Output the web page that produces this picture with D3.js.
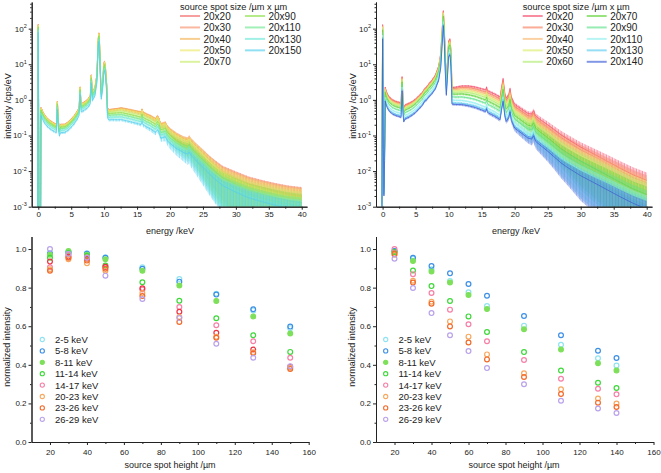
<!DOCTYPE html>
<html><head><meta charset="utf-8">
<script src="https://cdn.jsdelivr.net/npm/d3@7"></script>
<style>
body{margin:0;background:#fff}
text{font-family:"Liberation Sans",Arial,sans-serif;fill:#222}
</style>
</head><body>
<svg id="c" width="661" height="473"></svg>
<script>
// ---------------- DATA ----------------
// Top-left spectrum: 20x20 µm spot (upper curve), energy /keV and intensity /cps/eV
const specLeftE = [-0.1,0,0.1,0.35,0.4,0.5,0.7,1.0,1.5,2.0,2.5,2.75,2.9,3.05,3.2,3.4,4.0,4.5,5.0,5.5,6.0,6.2,6.35,6.5,7.0,7.5,7.9,8.05,8.2,8.6,8.9,9.1,9.2,9.3,9.45,9.55,9.75,9.95,10.05,10.2,10.4,10.5,10.7,11,12,12.6,13,14,15,15.6,15.75,15.9,16.5,17,17.8,18.1,18.3,18.6,19,19.3,19.6,20,21,22,22.7,22.9,23.2,24,25,26,27,28,30,32,34,36,38,40];
const specLeftI = [0.0008,130,0.0008,0.0008,0.6,0.55,0.45,0.36,0.28,0.24,0.21,0.2,0.9,0.25,0.16,0.2,0.2,0.23,0.28,0.36,0.5,0.6,2.3,0.75,0.85,1.0,1.3,5,1.6,2.2,5,50,75,40,5,1.8,3,10,12,8,2.5,0.6,0.5,0.52,0.55,0.57,0.55,0.5,0.45,0.42,0.52,0.42,0.37,0.34,0.28,0.34,0.3,0.2,0.21,0.22,0.17,0.14,0.1,0.078,0.07,0.08,0.065,0.045,0.03,0.02,0.014,0.01,0.0065,0.0045,0.0035,0.0028,0.0023,0.002];
const specLeftNames = ["20x20","20x30","20x40","20x50","20x70","20x90","20x110","20x130","20x150"];

// Top-right spectrum: 20x20 µm spot (upper curve)
const specRightE = [-0.1,0,0.12,0.2,0.3,0.4,0.5,0.7,1.0,1.5,2.0,2.5,2.8,2.95,3.1,3.2,3.4,4.0,4.5,5.0,5.5,6.0,6.4,6.6,7.0,7.5,8.0,8.5,8.8,9.0,9.2,9.35,9.5,9.65,9.8,10.0,10.2,10.35,10.45,10.5,11,12,13,14,15,15.6,15.75,15.9,16.5,17,17.8,18.0,18.25,18.5,18.7,19.1,19.3,19.5,19.8,20,21,22,22.6,22.85,23.2,24,25,26,27,28,30,32,34,36,38,40];
const specRightI = [0.0015,130,0.1,0.005,0.05,2.3,1.9,1.5,1.2,1.0,0.9,0.85,0.8,4.5,1.0,0.6,0.72,0.8,0.9,1.05,1.3,1.6,2.1,2.2,2.8,3.6,5,9,20,80,320,100,15,3.6,10,45,52,25,6,2.2,2.25,2.45,2.45,2.3,2.05,1.9,2.3,1.8,1.6,1.45,1.2,2.2,4,1.6,1.1,1.4,2.1,1.2,0.9,0.75,0.56,0.42,0.4,0.5,0.35,0.27,0.2,0.145,0.105,0.08,0.047,0.03,0.019,0.012,0.0078,0.0055];
const specRightNames = ["20x20","20x30","20x40","20x50","20x60","20x70","20x90","20x110","20x130","20x140"];

// spread of the counting noise (decades below / above the curve) vs energy
const noiseE      = [0, 15, 18, 20, 22, 24, 26, 28, 30, 33, 36, 40];
const noiseLoLeft = [0.04,0.05,0.08,0.15,0.25,0.4,0.6,0.8,1.0,1.2,1.3,1.4];
const noiseHiLeft = [0.03,0.03,0.04,0.05,0.07,0.1,0.12,0.15,0.18,0.2,0.22,0.25];
const noiseLoRight= [0.03,0.04,0.06,0.1,0.15,0.25,0.35,0.5,0.7,0.9,1.1,1.3];
const noiseHiRight= [0.03,0.03,0.04,0.05,0.06,0.08,0.1,0.12,0.14,0.17,0.2,0.22];

// Bottom panels: normalized intensity vs source spot height
const heightsLeft  = [20,30,40,50,70,90,110,130,150];
const heightsRight = [20,30,40,50,60,70,90,110,130,140];
const bandLabels   = ["2-5 keV","5-8 keV","8-11 keV","11-14 keV","14-17 keV","17-20 keV","20-23 keV","23-26 keV","26-29 keV"];
const bandCentres  = [3.5,6.5,9.5,12.5,15.5,18.5,21.5,24.5,27.5];

const left2to5   = [0.98,0.985,0.978,0.958,0.905,0.845,0.768,0.682,0.59];
const left5to8   = [0.975,0.985,0.975,0.955,0.898,0.831,0.764,0.688,0.598];
const left8to11  = [0.97,0.99,0.97,0.947,0.887,0.811,0.731,0.651,0.562];
const left11to14 = [0.955,0.98,0.965,0.915,0.828,0.732,0.641,0.553,0.467];
const left14to17 = [0.905,0.97,0.957,0.905,0.79,0.70,0.605,0.522,0.437];
const left17to20 = [0.935,0.96,0.95,0.908,0.797,0.675,0.566,0.479,0.39];
const left20to23 = [0.895,0.947,0.927,0.888,0.772,0.648,0.545,0.465,0.385];
const left23to26 = [0.888,0.955,0.94,0.898,0.757,0.622,0.54,0.46,0.378];
const left26to29 = [1.0,0.975,0.955,0.862,0.741,0.642,0.509,0.437,0.392];

const right2to5   = [0.99,0.95,0.895,0.834,0.776,0.705,0.603,0.504,0.434,0.396];
const right5to8   = [0.99,0.955,0.912,0.874,0.819,0.758,0.653,0.553,0.473,0.435];
const right8to11  = [0.985,0.938,0.884,0.827,0.762,0.689,0.584,0.48,0.408,0.37];
const right11to14 = [0.985,0.889,0.808,0.731,0.651,0.57,0.466,0.37,0.307,0.28];
const right14to17 = [1.0,0.87,0.772,0.686,0.61,0.522,0.425,0.328,0.276,0.247];
const right20to23 = [0.97,0.836,0.727,0.625,0.546,0.454,0.356,0.273,0.225,0.199];
const right23to26 = [0.975,0.826,0.717,0.599,0.516,0.428,0.337,0.249,0.204,0.181];
const right26to29 = [0.95,0.798,0.668,0.553,0.471,0.383,0.299,0.214,0.174,0.15];

const xTicksEnergy = [0,5,10,15,20,25,30,35,40];
const yTicksLog    = [1e-3,1e-2,1e-1,1,10,100];
const xTicksHeight = [20,40,60,80,100,120,140,160];
const yTicksNorm   = [0,0.2,0.4,0.6,0.8,1.0];

// ---------------- STYLE ----------------
const colLeftSpec  = ["#f26b6b","#f7926e","#f5b455","#eeea6a","#c7ec6a","#8ee04a","#6ee890","#6ee8d8","#55d0ee"];
const colRightSpec = ["#f5506e","#f7805e","#f9b870","#dcee6a","#b0ec70","#62d43a","#5ee28a","#90eeee","#5ccdef","#3e5fd8"];
const bandStyle = {
  "2-5 keV":  {c:"#8fe3f0", fill:false},
  "5-8 keV":  {c:"#3d8fe6", fill:false},
  "8-11 keV": {c:"#7ee05a", fill:true},
  "11-14 keV":{c:"#3ed83a", fill:false},
  "14-17 keV":{c:"#f77fa6", fill:false},
  "17-20 keV":{c:"#ee3344", fill:false},
  "20-23 keV":{c:"#f7a860", fill:false},
  "23-26 keV":{c:"#f26a2a", fill:false},
  "26-29 keV":{c:"#b9a2ea", fill:false}
};

const svg = d3.select("#c");
const defs = svg.append("defs");
const AX = "#222";

function interp(xs, ys, x) {
  if (x <= xs[0]) return ys[0];
  if (x >= xs[xs.length-1]) return ys[ys.length-1];
  const i = d3.bisectRight(xs, x) - 1;
  const t = (x - xs[i]) / (xs[i+1] - xs[i]);
  return ys[i] + t * (ys[i+1] - ys[i]);
}

function axisStyle(g){
  g.selectAll("path,line").attr("stroke", AX).attr("stroke-width",1);
  g.selectAll("text").style("font-size","8px").attr("fill",AX);
}

// streaky texture used to render the noise band of each spectrum
function stripePattern(pid, color, shift) {
  const p = defs.append("pattern").attr("id", pid).attr("patternUnits","userSpaceOnUse")
    .attr("width", 6).attr("height", 400).attr("patternTransform", `translate(${shift},0)`);
  [[0,0.9],[1.9,0.6],[3.3,1.0],[4.9,0.5]].forEach(([px, w]) =>
    p.append("rect").attr("x", px).attr("y", 0).attr("width", w).attr("height", 400)
      .attr("fill", color).attr("fill-opacity", 0.6));
}

function spectrumPanel(id, E, I, names, colors, bands, centres, nLo, nHi, x0, x1, titleX, yTitleX, leg) {
  const x = d3.scaleLinear().domain([-1, 40.8]).range([x0, x1]);
  const y = d3.scaleLog().domain([1e-3, 560]).range([206.7, 2]);
  defs.append("clipPath").attr("id", id).append("rect")
    .attr("x", x0).attr("y", 2).attr("width", x1 - x0).attr("height", 204.7);
  const g = svg.append("g").attr("clip-path", `url(#${id})`);
  names.forEach((nm, k) => {
    const ratio = centres.map((c, b) => bands[b][k] / bands[b][0]);
    const pts = E.map((e, i) => {
      const v = I[i] * interp(centres, ratio, e);
      const lo = interp(noiseE, nLo, e), hi = interp(noiseE, nHi, e);
      return {e, v, lo: Math.max(v * Math.pow(10, -lo), 2e-4), hi: v * Math.pow(10, hi)};
    });
    const pid = `${id}p${k}`;
    stripePattern(pid, colors[k], (k * 1.37) % 6);
    const area = d3.area().x(d => x(d.e)).y0(d => y(d.lo)).y1(d => y(d.hi));
    g.append("path").datum(pts).attr("d", area)
      .attr("fill", colors[k]).attr("fill-opacity", 0.13).attr("stroke","none");
    g.append("path").datum(pts).attr("d", area)
      .attr("fill", `url(#${pid})`).attr("stroke","none");
    g.append("path").datum(pts)
      .attr("d", d3.line().x(d => x(d.e)).y(d => y(Math.max(d.v, 2e-4))))
      .attr("fill","none").attr("stroke", colors[k]).attr("stroke-width", 0.9).attr("stroke-opacity", 0.85);
  });
  // axes
  const minorX = d3.range(2.5, 41, 5);
  svg.append("g").attr("transform","translate(0,206.7)")
    .call(d3.axisBottom(x).tickValues(minorX).tickSize(2).tickFormat("").tickSizeOuter(0)).call(axisStyle);
  svg.append("g").attr("transform","translate(0,206.7)")
    .call(d3.axisBottom(x).tickValues(xTicksEnergy).tickSize(3).tickPadding(2).tickSizeOuter(0)).call(axisStyle);
  const minorY = [];
  for (let p = -3; p <= 2; p++) for (let m = 2; m <= 9; m++) { const v = m * Math.pow(10, p); if (v <= 560) minorY.push(v); }
  svg.append("g").attr("transform",`translate(${x0},0)`)
    .call(d3.axisLeft(y).tickValues(minorY).tickSize(1.5).tickFormat("").tickSizeOuter(0)).call(axisStyle);
  svg.append("g").attr("transform",`translate(${x0},0)`)
    .call(d3.axisLeft(y).tickValues(yTicksLog).tickSize(3).tickFormat("").tickSizeOuter(0)).call(axisStyle);
  yTicksLog.forEach(v => {
    const t = svg.append("text").attr("x", x0 - 5).attr("y", y(v) + 3).attr("text-anchor","end").style("font-size","8px");
    t.append("tspan").text("10");
    t.append("tspan").attr("dy", -3.5).style("font-size","5.5px").text(String(Math.round(Math.log10(v))));
  });
  svg.append("text").attr("x", titleX).attr("y", 234).attr("text-anchor","middle").style("font-size","9px").text("energy /keV");
  svg.append("text").attr("transform",`translate(${yTitleX},106) rotate(-90)`).attr("text-anchor","middle").style("font-size","9px").text("intensity  /cps/eV");
  // legend
  svg.append("text").attr("x", leg.x).attr("y", 9.5).style("font-size","9.2px").text("source spot size /µm x µm");
  names.forEach((nm, k) => {
    const col = k < 5 ? 0 : 1, row = k < 5 ? k : k - 5;
    const lx = col === 0 ? leg.x : leg.x2;
    const cy = 16 + row * 11.45;
    svg.append("line").attr("x1", lx).attr("x2", lx + 20).attr("y1", cy).attr("y2", cy)
      .attr("stroke", colors[k]).attr("stroke-width", 2).attr("stroke-opacity", 0.65);
    svg.append("text").attr("x", lx + 23.5).attr("y", cy + 3.6).style("font-size","10px").text(nm);
  });
}

function normPanel(heights, series, x0, x1, titleX, yTitleX, legX) {
  const x = d3.scaleLinear().domain([10, 160]).range([x0, x1]);
  const y = d3.scaleLinear().domain([0, 1.065]).range([442, 236.5]);
  svg.append("g").attr("transform","translate(0,442)")
    .call(d3.axisBottom(x).tickValues(d3.range(30, 160, 20)).tickSize(2).tickFormat("").tickSizeOuter(0)).call(axisStyle);
  svg.append("g").attr("transform","translate(0,442)")
    .call(d3.axisBottom(x).tickValues(xTicksHeight).tickSize(3).tickPadding(4).tickSizeOuter(0)).call(axisStyle);
  svg.append("g").attr("transform",`translate(${x0},0)`)
    .call(d3.axisLeft(y).tickValues([0.1,0.3,0.5,0.7,0.9]).tickSize(1.5).tickFormat("").tickSizeOuter(0)).call(axisStyle);
  svg.append("g").attr("transform",`translate(${x0},0)`)
    .call(d3.axisLeft(y).tickValues(yTicksNorm).tickSize(3).tickPadding(2).tickFormat(d3.format(".1f")).tickSizeOuter(0)).call(axisStyle);
  series.forEach(s => {
    const st = bandStyle[s.label];
    svg.append("g").selectAll("circle").data(s.values).join("circle")
      .attr("cx", (d, i) => x(heights[i])).attr("cy", d => y(d)).attr("r", 2.4)
      .attr("fill", st.fill ? st.c : "none").attr("stroke", st.c).attr("stroke-width", 1.2);
  });
  svg.append("text").attr("x", titleX).attr("y", 468).attr("text-anchor","middle").style("font-size","9px").text("source spot height /µm");
  svg.append("text").attr("transform",`translate(${yTitleX},347) rotate(-90)`).attr("text-anchor","middle").style("font-size","9px").text("normalized intensity");
  series.filter(s => s.legend).forEach((s, i) => {
    const st = bandStyle[s.label];
    const cy = 339.5 + i * 11.4;
    svg.append("circle").attr("cx", legX).attr("cy", cy).attr("r", 2.1)
      .attr("fill", st.fill ? st.c : "none").attr("stroke", st.c).attr("stroke-width", 1.1);
    svg.append("text").attr("x", legX + 12.7).attr("y", cy + 3.4).style("font-size","9.5px").text(s.label);
  });
}

// ---------------- DRAW ----------------
const leftBands  = [left2to5,left5to8,left8to11,left11to14,left14to17,left17to20,left20to23,left23to26,left26to29];
const rightBands = [right2to5,right5to8,right8to11,right11to14,right14to17,right20to23,right23to26,right26to29];
const rightCentres = [3.5,6.5,9.5,12.5,15.5,21.5,24.5,27.5];
const rightLabels  = ["2-5 keV","5-8 keV","8-11 keV","11-14 keV","14-17 keV","20-23 keV","23-26 keV","26-29 keV"];

spectrumPanel("clipL", specLeftE, specLeftI, specLeftNames, colLeftSpec, leftBands, bandCentres,
  noiseLoLeft, noiseHiLeft, 31.7, 307, 170, 10.5, {x:180, x2:245});
spectrumPanel("clipR", specRightE, specRightI, specRightNames, colRightSpec, rightBands, rightCentres,
  noiseLoRight, noiseHiRight, 376, 652, 516, 355.5, {x:522.7, x2:586.7});

normPanel(heightsLeft, bandLabels.map((lb, b) => ({label: lb, values: leftBands[b], legend: lb !== "17-20 keV"})),
  31.5, 308.7, 170, 9.8, 42.3);
normPanel(heightsRight, rightLabels.map((lb, b) => ({label: lb, values: rightBands[b], legend: true})),
  376, 653.5, 514, 354.5, 385.7);
</script>
</body></html>
